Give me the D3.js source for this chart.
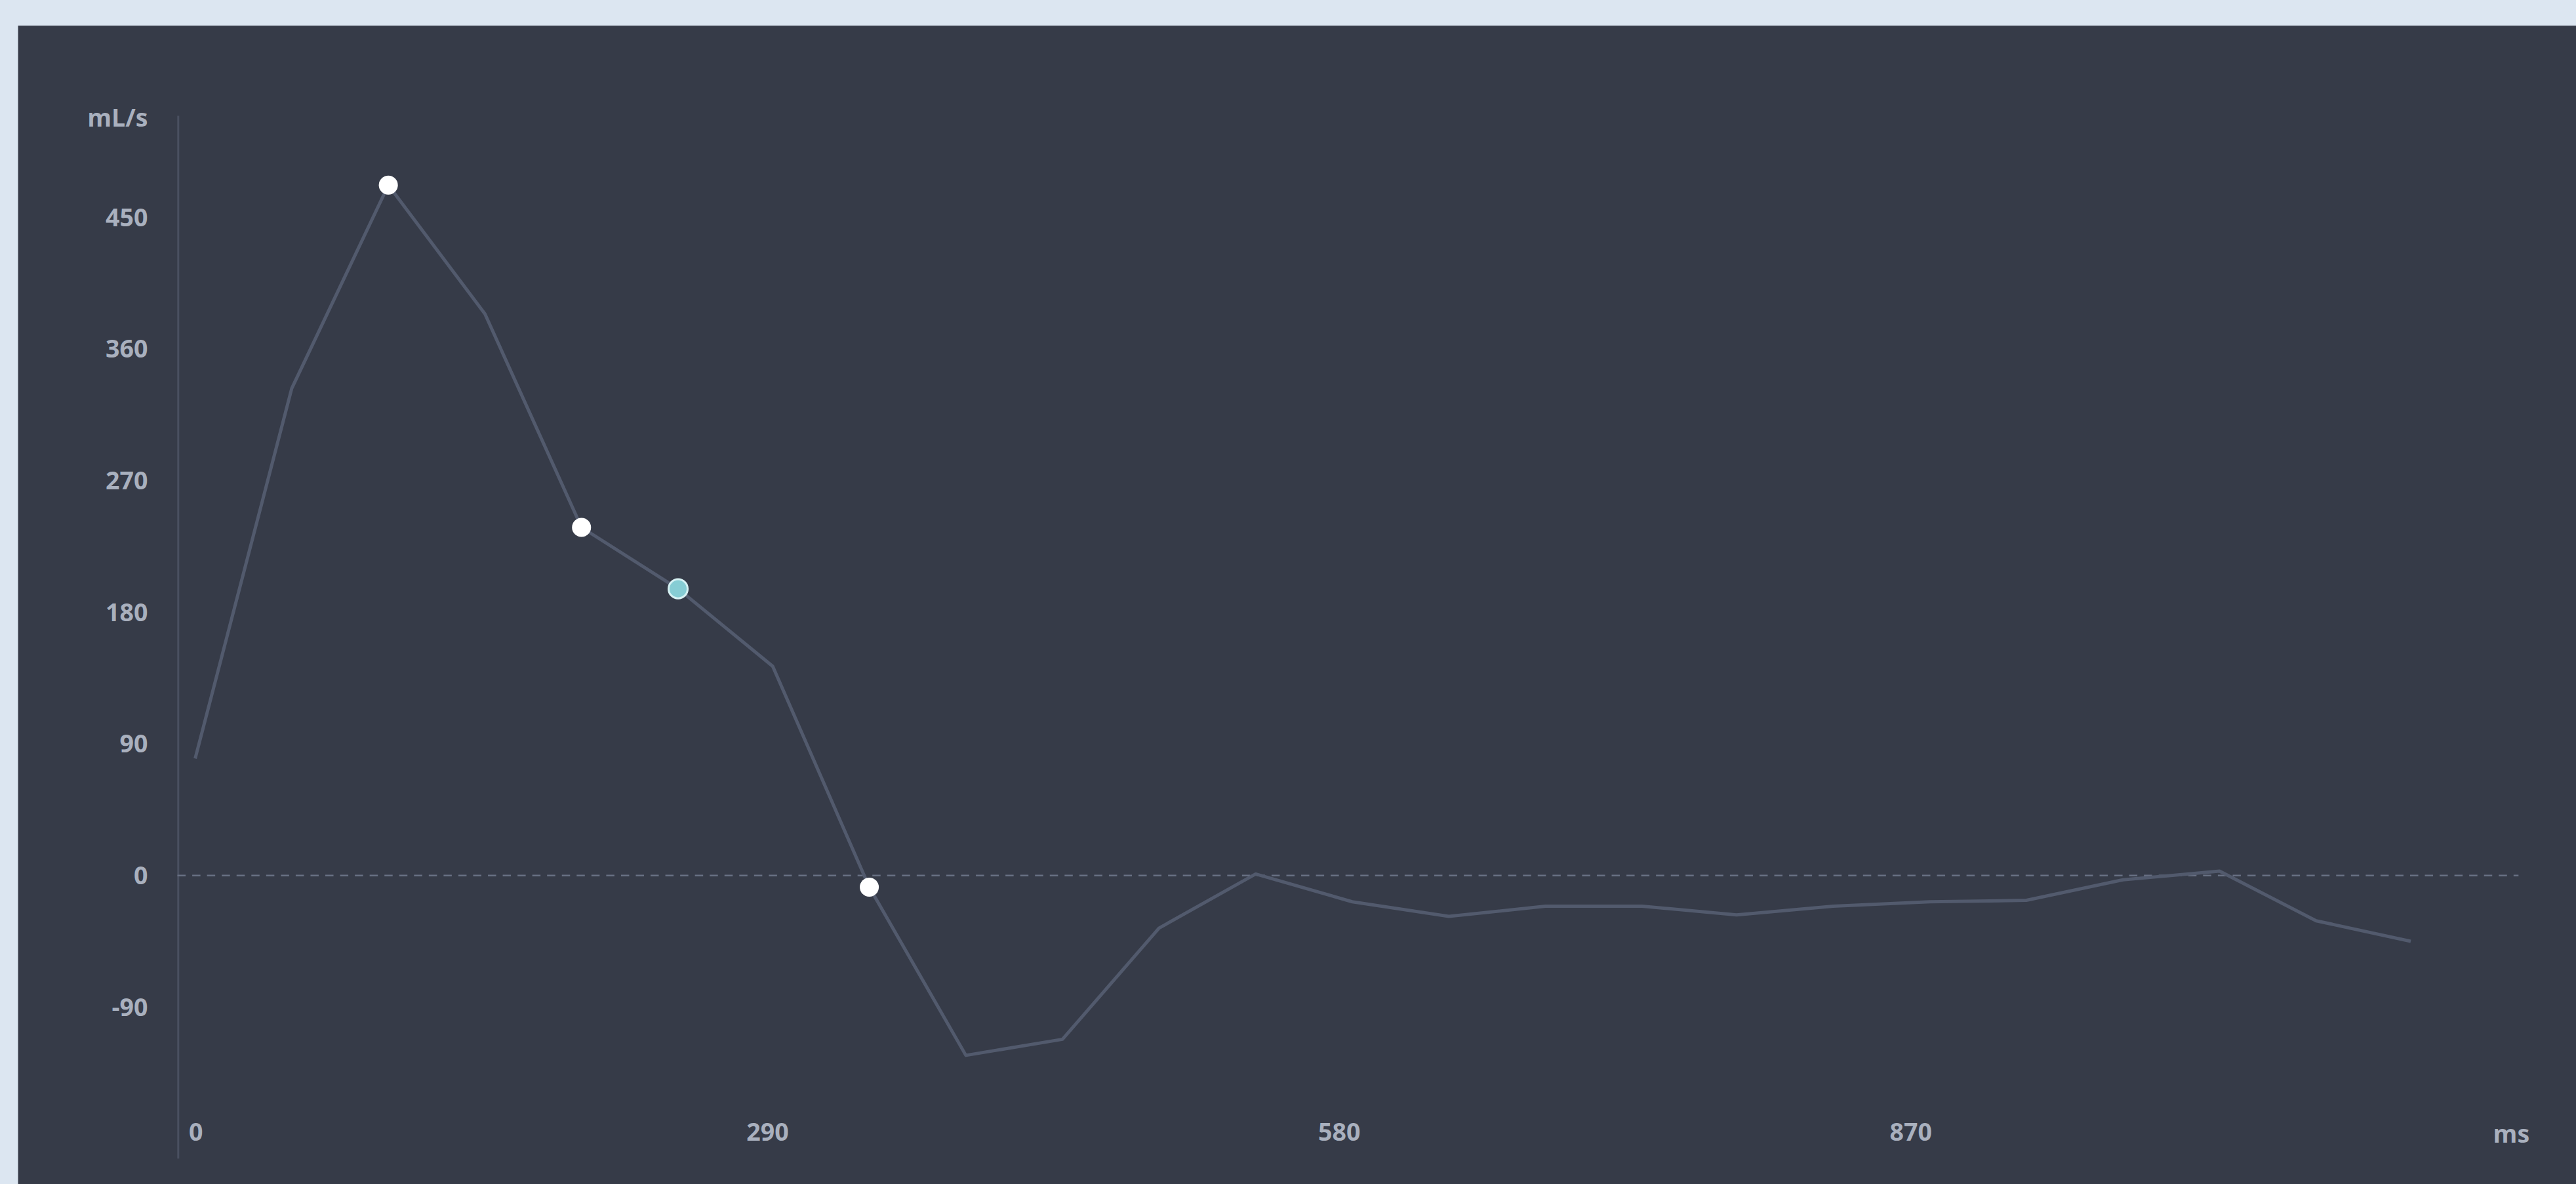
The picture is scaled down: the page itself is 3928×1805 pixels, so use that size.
<!DOCTYPE html>
<meta charset="utf-8">

<!-- Load d3.js -->
<script src="https://d3js.org/d3.v7.min.js"></script>

<style>
  html, body { margin: 0; padding: 0; background: #dce6f1; }
  svg { display: block; }
</style>

<!-- Create a div where the graph will take place -->
<div id="flowchart"></div>

<script>
    // time axis (ms) and flow values (mL/s)
    var times = [0, 49, 98, 147, 196, 245, 293, 342, 391, 440, 489, 538,
                 587, 636, 685, 734, 782, 831, 880, 929, 978, 1027, 1076, 1124];
    var flow = [80, 333, 472, 384, 238, 196, 143, -8, -123, -112, -36, 1,
                -18, -28, -21, -21, -27, -21, -18, -17, -3, 3, -31, -45];

    var markerIdx = [2, 4, 7];   // white points
    var selectedIdx = 5;         // highlighted point

    var yTicks = [-90, 0, 90, 180, 270, 360, 450];
    var xTicks = [0, 290, 580, 870];

    // drawing done on a 1568x721 grid, scaled up to the window
    var W = 1568, H = 721;

    var svg = d3.select("#flowchart")
      .append("svg")
        .attr("width", 3928)
        .attr("height", 1805)
        .attr("viewBox", "0 0 " + W + " " + H)
        .attr("preserveAspectRatio", "none");

    // dark panel
    svg.append("rect")
        .attr("x", 11)
        .attr("y", 15.6)
        .attr("width", W - 11)
        .attr("height", H - 15.6)
        .attr("fill", "#363b48");

    var x = d3.scaleLinear()
        .domain([-9, 1182])
        .range([108, 1537]);

    var y = d3.scaleLinear()
        .domain([-193, 520])
        .range([705, 70]);

    var font = "'Open Sans', 'DejaVu Sans', sans-serif";
    var textColor = "#a9b0be";
    var plain = function(d) { return String(d); };  // keep ascii hyphen for negatives

    // Y axis
    var yAxis = svg.append("g")
        .attr("transform", "translate(108,0)")
        .call(d3.axisLeft(y).tickValues(yTicks).tickFormat(plain).tickSize(0).tickPadding(18));
    yAxis.select(".domain")
        .attr("stroke", "#4a5060")
        .attr("stroke-width", 1.2);
    yAxis.selectAll("text")
        .attr("fill", textColor)
        .style("font-family", font)
        .style("font-size", "15px")
        .style("font-weight", "700");

    // X axis (labels only)
    var xAxis = svg.append("g")
        .attr("transform", "translate(0,680)")
        .call(d3.axisBottom(x).tickValues(xTicks).tickFormat(plain).tickSize(0).tickPadding(4));
    xAxis.select(".domain").remove();
    xAxis.selectAll("text")
        .attr("fill", textColor)
        .style("font-family", font)
        .style("font-size", "15px")
        .style("font-weight", "700");

    // unit labels
    svg.append("text")
        .attr("x", 90)
        .attr("y", 77)
        .attr("text-anchor", "end")
        .attr("fill", textColor)
        .style("font-family", font)
        .style("font-size", "15px")
        .style("font-weight", "700")
        .text("mL/s");

    svg.append("text")
        .attr("x", x(1175))
        .attr("y", 696)
        .attr("text-anchor", "middle")
        .attr("fill", textColor)
        .style("font-family", font)
        .style("font-size", "15px")
        .style("font-weight", "700")
        .text("ms");

    // zero reference line
    svg.append("line")
        .attr("x1", x.range()[0])
        .attr("x2", 1533)
        .attr("y1", y(0))
        .attr("y2", y(0))
        .attr("stroke", "#687083")
        .attr("stroke-width", 1)
        .attr("stroke-dasharray", "5,4");

    var data = times.map(function(t, i) { return {t: t, v: flow[i], i: i}; });

    // flow curve
    svg.append("path")
        .datum(data)
        .attr("fill", "none")
        .attr("stroke", "#525a6d")
        .attr("stroke-width", 2)
        .attr("stroke-linejoin", "round")
        .attr("d", d3.line()
            .x(function(d) { return x(d.t); })
            .y(function(d) { return y(d.v); }));

    // white markers
    svg.selectAll("circle.marker")
        .data(data.filter(function(d) { return markerIdx.includes(d.i); }))
        .enter()
        .append("circle")
        .attr("class", "marker")
        .attr("cx", function(d) { return x(d.t); })
        .attr("cy", function(d) { return y(d.v); })
        .attr("r", 5.8)
        .attr("fill", "#ffffff");

    // selected marker
    svg.append("circle")
        .datum(data[selectedIdx])
        .attr("cx", function(d) { return x(d.t); })
        .attr("cy", function(d) { return y(d.v); })
        .attr("r", 5.8)
        .attr("fill", "#86cdd4")
        .attr("stroke", "#d6f1f3")
        .attr("stroke-width", 1.2);
</script>
